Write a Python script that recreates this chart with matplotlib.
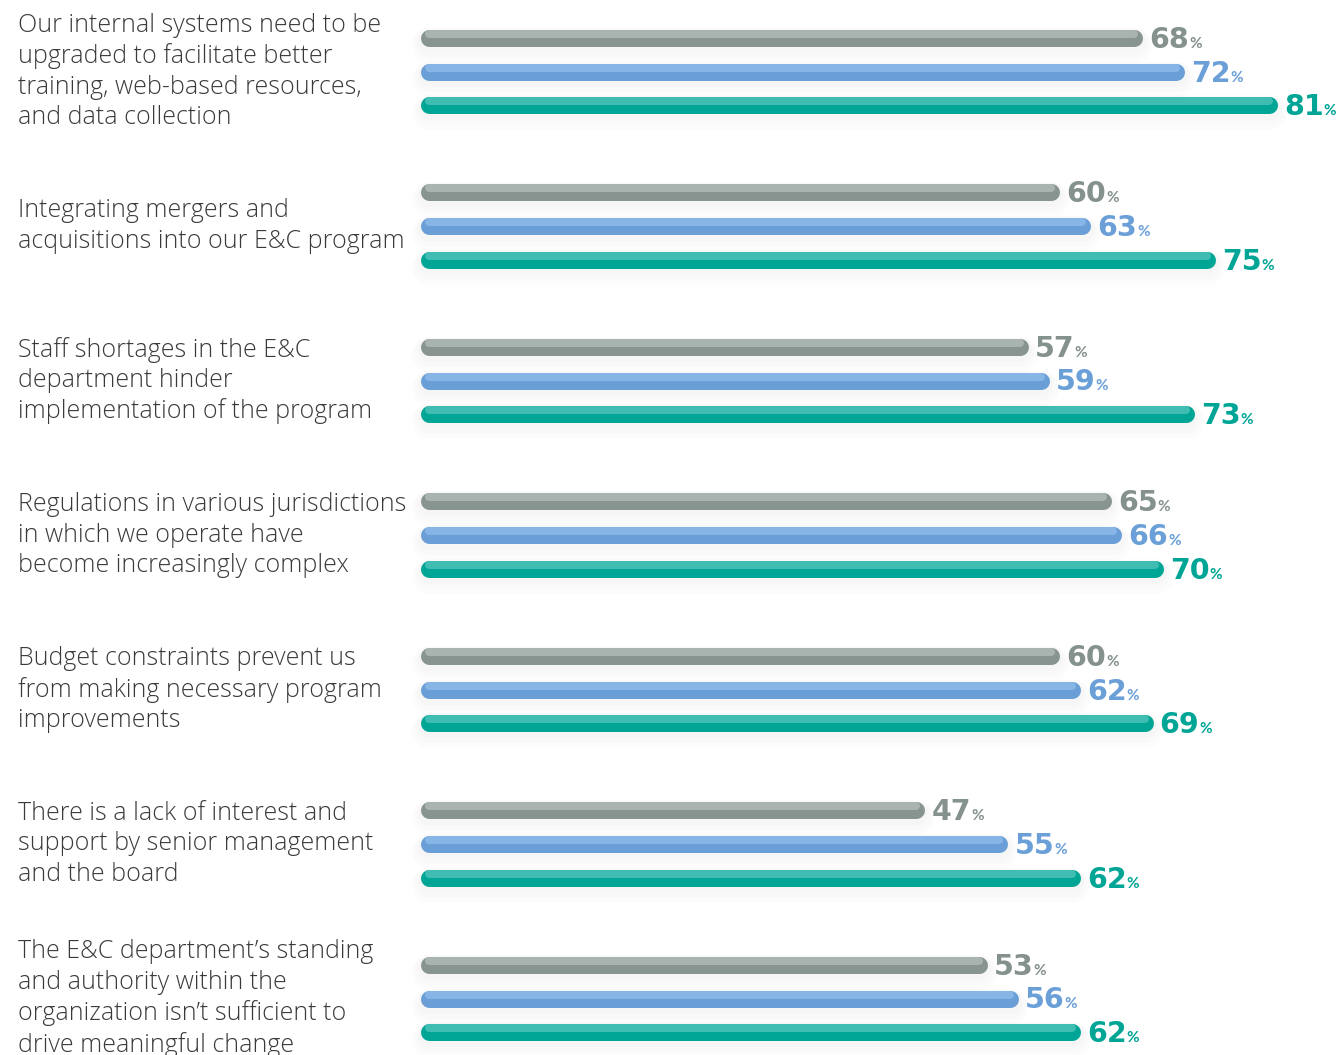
import matplotlib

matplotlib.use("Agg")
import matplotlib.pyplot as plt
import matplotlib.transforms as mtransforms

# Share of respondents agreeing with each statement, three survey groups
STATEMENTS = [
    "Our internal systems need to be\nupgraded to facilitate better\ntraining, web-based resources,\nand data collection",
    "Integrating mergers and\nacquisitions into our E&C program",
    "Staff shortages in the E&C\ndepartment hinder\nimplementation of the program",
    "Regulations in various jurisdictions\nin which we operate have\nbecome increasingly complex",
    "Budget constraints prevent us\nfrom making necessary program\nimprovements",
    "There is a lack of interest and\nsupport by senior management\nand the board",
    "The E&C department\u2019s standing\nand authority within the\norganization isn\u2019t sufficient to\ndrive meaningful change",
]
GRAY_VALUES = [68, 60, 57, 65, 60, 47, 53]
BLUE_VALUES = [72, 63, 59, 66, 62, 55, 56]
TEAL_VALUES = [81, 75, 73, 70, 69, 62, 62]

SERIES = [GRAY_VALUES, BLUE_VALUES, TEAL_VALUES]
# (base colour, highlight colour, label colour)
STYLES = [
    ("#87948f", "#a9b4b0", "#84918c"),
    ("#699ed7", "#87b5e6", "#6a9fd8"),
    ("#00a596", "#3fbdb2", "#00a596"),
]

W, H, DPI = 1336, 1055, 100
PX = 72 / DPI  # points per pixel


def main():
    fig = plt.figure(figsize=(W / DPI, H / DPI), dpi=DPI)
    fig.patch.set_facecolor("white")

    # bars start at x=429px, 10.37 px per percentage point
    left_px = 429
    scale = 10.37
    xmax = (W - left_px - 4) / scale
    ax = fig.add_axes([left_px / W, 0, 1 - (left_px + 4) / W, 1])
    ax.set_xlim(0, xmax)
    ax.set_ylim(H, 0)
    ax.axis("off")

    group_step = 154.5
    bar_step = 33.7
    first = 71.5
    lw = 17 * PX

    up = mtransforms.offset_copy(ax.transData, fig=fig, x=0, y=4, units="dots")
    shadows = [mtransforms.offset_copy(ax.transData, fig=fig, x=0, y=-d, units="dots")
               for d in (3, 5, 7)]

    for i, label in enumerate(STATEMENTS):
        yc = first + i * group_step
        ax.text(-411 / scale, yc, label, ha="left", va="center", fontsize=18,
                family="Open Sans", weight="light", color="#3a3a3a",
                linespacing=1.28, clip_on=False)
        for j, values in enumerate(SERIES):
            v = values[i]
            y = yc + (j - 1) * bar_step
            base, hi, txt = STYLES[j]
            # soft drop shadow
            for k, tr in enumerate(shadows):
                ax.plot([0, v], [y, y], color="#808080", alpha=0.025,
                        lw=lw + (6 + 6 * k) * PX, solid_capstyle="round",
                        transform=tr, zorder=1, clip_on=False)
            ax.plot([0, v], [y, y], color=base, lw=lw,
                    solid_capstyle="round", zorder=2, clip_on=False)
            ax.plot([0, v], [y, y], color=hi, lw=8 * PX,
                    solid_capstyle="round", transform=up, zorder=3,
                    clip_on=False)

            num = ax.annotate(f"{v}", xy=(v, y), xytext=(15 * PX, -10 * PX),
                              textcoords="offset points", ha="left",
                              va="baseline", fontsize=20.5, family="DejaVu Sans",
                              weight="bold", color=txt,
                              annotation_clip=False)
            ax.annotate("%", xy=(1, y), xycoords=(num, "data"),
                        xytext=(0, -10 * PX), textcoords="offset points",
                        ha="left", va="baseline", fontsize=11,
                        family="Lato", weight="bold", color=txt,
                        annotation_clip=False)

    fig.savefig("out.png", dpi=DPI, facecolor="white")


if __name__ == "__main__":
    main()
